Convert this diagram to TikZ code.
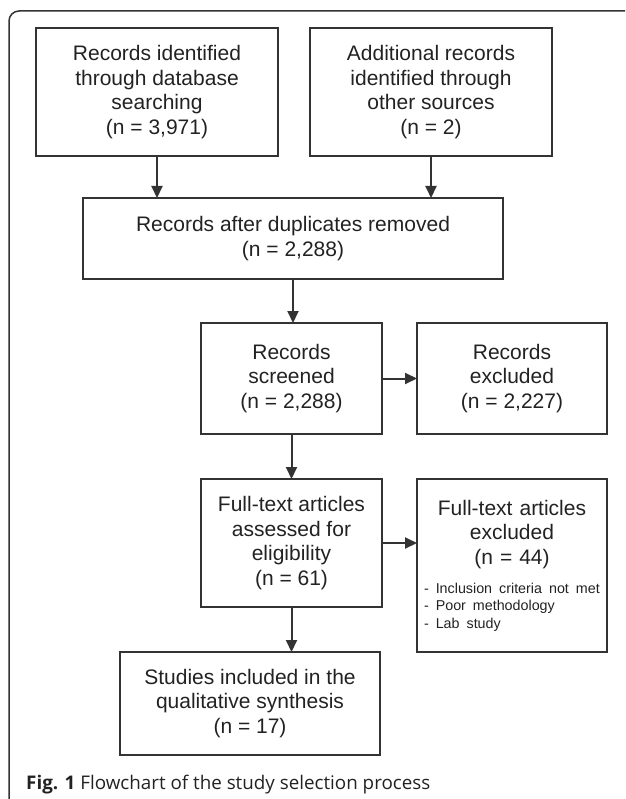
\documentclass[tikz,border=0pt]{standalone}
\usepackage{fontspec}
\setmainfont{Liberation Sans}
\newfontfamily\capfont{Open Sans}
\usetikzlibrary{arrows.meta}
\setlength{\parindent}{0pt}
\definecolor{linegray}{HTML}{333333}
\definecolor{textgray}{HTML}{222222}
\tikzset{
	stepbox/.style={draw=linegray, line width=2pt, align=center, inner sep=0pt, outer sep=0pt, text=textgray, font=\fontsize{21}{24.5}\selectfont},
	arr/.style={draw=linegray, line width=2pt, -{Triangle[width=11pt,length=12pt]}},
}
\begin{document}
\begin{tikzpicture}[x=1pt, y=-1pt]
		\useasboundingbox (0,0) rectangle (625,799);
		%frame
		\draw[linegray, line width=1.5pt] (9,799) -- (9,21) arc[start angle=180, end angle=270, radius=10] -- (625,11);
		
		%boxes
		\node (ident) at (157,92) [stepbox, minimum width=242pt, minimum height=128pt]{Records identified\\through database\\searching\\(n = 3,971)};
		\node (other) at (431,92) [stepbox, minimum width=242pt, minimum height=128pt]{Additional records\\identified through\\other sources\\(n = 2)};
		\node (dupl) at (293,238.5) [stepbox, minimum width=420pt, minimum height=81pt]{Records after duplicates removed\\(n = 2,288)};
		\node (screen) at (291.5,378.5) [stepbox, minimum width=181pt, minimum height=111pt]{Records\\screened\\(n = 2,288)};
		\node (excl) at (512,378.5) [stepbox, minimum width=190pt, minimum height=111pt]{Records\\excluded\\(n = 2,227)};
		\node (full) at (291.5,543) [stepbox, minimum width=181pt, minimum height=128pt]{Full-text articles\\assessed for\\eligibility\\(n = 61)};
		\node (fullexcl) at (512,565.5) [stepbox, align=left, text width=176pt, minimum width=190pt, minimum height=173pt]{%
			{\centering Full-text articles\\excluded\\(n = 44)\par}\vspace{12pt}%
			{\fontsize{14.3}{17.3}\selectfont \mbox{- Inclusion criteria not met}\\- Poor methodology\\- Lab study\par}};
		\node (incl) at (250,703.5) [stepbox, minimum width=260pt, minimum height=103pt]{Studies included in the\\qualitative synthesis\\(n = 17)};
		
		%arrows
		\foreach \from/\to in {ident/dupl, other/dupl, dupl/screen, screen/full, full/incl}{
			\draw[arr] (\from.south) -- (\from.south |- \to.north);
		}
		\draw[arr] (screen.east) -- (screen.east -| excl.west);
		\draw[arr] (full.east) -- (full.east -| fullexcl.west);
		
		%caption
		\node (cap) at (26,789) [anchor=base west, inner sep=0pt, text=textgray, font=\capfont\fontsize{18.8}{22}\selectfont]{\textbf{Fig. 1} Flowchart of the study selection process};
\end{tikzpicture}
\end{document}
